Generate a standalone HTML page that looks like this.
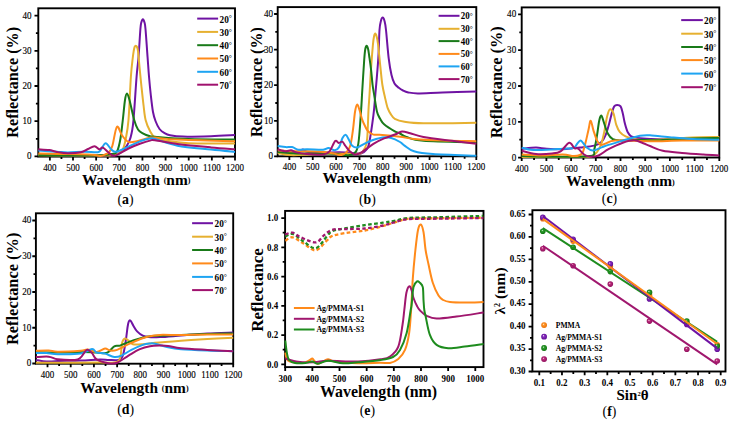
<!DOCTYPE html><html><head><meta charset="utf-8"><style>html,body{margin:0;padding:0;background:#fff;}svg{display:block;font-family:"Liberation Serif", serif;}</style></head><body>
<svg width="733" height="421" viewBox="0 0 733 421">
<rect width="733" height="421" fill="#fff"/>
<rect x="38.30" y="8.30" width="196.70" height="148.30" fill="none" stroke="#000" stroke-width="1.90"/>
<path d="M49.87 156.60V160.40M73.01 156.60V160.40M96.15 156.60V160.40M119.29 156.60V160.40M142.44 156.60V160.40M165.58 156.60V160.40M188.72 156.60V160.40M211.86 156.60V160.40M235.00 156.60V160.40M61.44 156.60V159.00M84.58 156.60V159.00M107.72 156.60V159.00M130.86 156.60V159.00M154.01 156.60V159.00M177.15 156.60V159.00M200.29 156.60V159.00M223.43 156.60V159.00M38.30 156.40H34.50M38.30 121.20H34.50M38.30 86.00H34.50M38.30 50.80H34.50M38.30 15.60H34.50M38.30 138.80H35.90M38.30 103.60H35.90M38.30 68.40H35.90M38.30 33.20H35.90" stroke="#000" stroke-width="1.80" fill="none"/>
<text transform="translate(49.87 170.60) scale(1 1.150)" font-size="9.00" font-weight="normal" text-anchor="middle" stroke="#000" stroke-width="0.12">400</text>
<text transform="translate(73.01 170.60) scale(1 1.150)" font-size="9.00" font-weight="normal" text-anchor="middle" stroke="#000" stroke-width="0.12">500</text>
<text transform="translate(96.15 170.60) scale(1 1.150)" font-size="9.00" font-weight="normal" text-anchor="middle" stroke="#000" stroke-width="0.12">600</text>
<text transform="translate(119.29 170.60) scale(1 1.150)" font-size="9.00" font-weight="normal" text-anchor="middle" stroke="#000" stroke-width="0.12">700</text>
<text transform="translate(142.44 170.60) scale(1 1.150)" font-size="9.00" font-weight="normal" text-anchor="middle" stroke="#000" stroke-width="0.12">800</text>
<text transform="translate(165.58 170.60) scale(1 1.150)" font-size="9.00" font-weight="normal" text-anchor="middle" stroke="#000" stroke-width="0.12">900</text>
<text transform="translate(188.72 170.60) scale(1 1.150)" font-size="9.00" font-weight="normal" text-anchor="middle" stroke="#000" stroke-width="0.12">1000</text>
<text transform="translate(211.86 170.60) scale(1 1.150)" font-size="9.00" font-weight="normal" text-anchor="middle" stroke="#000" stroke-width="0.12">1100</text>
<text transform="translate(235.00 170.60) scale(1 1.150)" font-size="9.00" font-weight="normal" text-anchor="middle" stroke="#000" stroke-width="0.12">1200</text>
<text transform="translate(31.50 155.60) scale(1 1.150)" font-size="9.10" font-weight="normal" text-anchor="end" dominant-baseline="central" stroke="#000" stroke-width="0.12">0</text>
<text transform="translate(31.50 120.40) scale(1 1.150)" font-size="9.10" font-weight="normal" text-anchor="end" dominant-baseline="central" stroke="#000" stroke-width="0.12">10</text>
<text transform="translate(31.50 85.20) scale(1 1.150)" font-size="9.10" font-weight="normal" text-anchor="end" dominant-baseline="central" stroke="#000" stroke-width="0.12">20</text>
<text transform="translate(31.50 50.00) scale(1 1.150)" font-size="9.10" font-weight="normal" text-anchor="end" dominant-baseline="central" stroke="#000" stroke-width="0.12">30</text>
<text transform="translate(31.50 14.80) scale(1 1.150)" font-size="9.10" font-weight="normal" text-anchor="end" dominant-baseline="central" stroke="#000" stroke-width="0.12">40</text>
<text transform="translate(18.00 82.30) rotate(-90)" font-size="16.15" font-weight="bold" text-anchor="middle">Reflectance (%)</text>
<text x="136.20" y="184.50" font-size="15.40" font-weight="bold" text-anchor="middle">Wavelength <tspan font-size="8" dy="-1.2">(</tspan><tspan dy="1.2">nm</tspan><tspan font-size="8" dy="-1.2">)</tspan></text>
<text x="125.50" y="204.20" font-size="13.80" text-anchor="middle">(<tspan font-weight="bold">a</tspan>)</text>
<path d="M38.30 155.00 C41.92 155.05 51.38 155.22 60.00 155.30 C68.62 155.38 81.67 155.47 90.00 155.50 C98.33 155.53 105.95 155.55 110.00 155.50 C114.05 155.45 112.48 155.73 114.30 155.20 C116.12 154.67 118.85 153.82 120.90 152.30 C122.95 150.78 125.02 148.48 126.60 146.10 C128.18 143.72 129.28 142.03 130.40 138.00 C131.52 133.97 132.27 132.15 133.30 121.90 C134.33 111.65 135.73 87.23 136.60 76.50 C137.47 65.77 137.87 65.42 138.50 57.50 C139.13 49.58 139.93 34.83 140.40 29.00 C140.87 23.17 140.88 24.12 141.30 22.50 C141.72 20.88 142.37 19.30 142.90 19.30 C143.43 19.30 144.07 20.88 144.50 22.50 C144.93 24.12 144.98 23.17 145.50 29.00 C146.02 34.83 147.02 49.58 147.60 57.50 C148.18 65.42 148.47 70.25 149.00 76.50 C149.53 82.75 150.13 89.08 150.80 95.00 C151.47 100.92 152.22 107.67 153.00 112.00 C153.78 116.33 154.42 118.17 155.50 121.00 C156.58 123.83 157.98 126.97 159.50 129.00 C161.02 131.03 162.85 132.15 164.60 133.20 C166.35 134.25 166.93 134.73 170.00 135.30 C173.07 135.87 176.17 136.45 183.00 136.60 C189.83 136.75 202.33 136.45 211.00 136.20 C219.67 135.95 231.00 135.28 235.00 135.10" fill="none" stroke="#6f13a3" stroke-width="2.00" stroke-linejoin="round" stroke-linecap="butt"/>
<path d="M38.30 155.20 C43.58 155.25 59.72 155.45 70.00 155.50 C80.28 155.55 93.00 155.53 100.00 155.50 C107.00 155.47 108.83 155.60 112.00 155.30 C115.17 155.00 117.20 154.67 119.00 153.70 C120.80 152.73 121.68 151.95 122.80 149.50 C123.92 147.05 124.75 143.92 125.70 139.00 C126.65 134.08 127.63 130.42 128.50 120.00 C129.37 109.58 130.18 86.92 130.90 76.50 C131.62 66.08 132.32 61.83 132.80 57.50 C133.28 53.17 133.50 52.25 133.80 50.50 C134.10 48.75 134.27 47.78 134.60 47.00 C134.93 46.22 135.40 45.80 135.80 45.80 C136.20 45.80 136.63 46.13 137.00 47.00 C137.37 47.87 137.58 47.67 138.00 51.00 C138.42 54.33 138.93 61.17 139.50 67.00 C140.07 72.83 140.73 79.67 141.40 86.00 C142.07 92.33 142.80 99.33 143.50 105.00 C144.20 110.67 144.52 115.67 145.60 120.00 C146.68 124.33 148.43 128.08 150.00 131.00 C151.57 133.92 152.50 135.92 155.00 137.50 C157.50 139.08 159.40 139.53 165.00 140.50 C170.60 141.47 176.93 142.80 188.60 143.30 C200.27 143.80 227.27 143.47 235.00 143.50" fill="none" stroke="#e6b030" stroke-width="2.00" stroke-linejoin="round" stroke-linecap="butt"/>
<path d="M38.30 155.30 C43.58 155.33 59.72 155.50 70.00 155.50 C80.28 155.50 92.78 155.60 100.00 155.30 C107.22 155.00 110.45 154.35 113.30 153.70 C116.15 153.05 115.92 153.85 117.10 151.40 C118.28 148.95 119.45 144.23 120.40 139.00 C121.35 133.77 122.03 126.50 122.80 120.00 C123.57 113.50 124.30 104.40 125.00 100.00 C125.70 95.60 126.25 93.60 127.00 93.60 C127.75 93.60 128.30 95.60 129.50 100.00 C130.70 104.40 132.78 115.08 134.20 120.00 C135.62 124.92 136.57 127.28 138.00 129.50 C139.43 131.72 140.80 132.18 142.80 133.30 C144.80 134.42 147.97 135.62 150.00 136.20 C152.03 136.78 148.57 136.33 155.00 136.80 C161.43 137.27 175.27 138.53 188.60 139.00 C201.93 139.47 227.27 139.50 235.00 139.60" fill="none" stroke="#197a19" stroke-width="2.00" stroke-linejoin="round" stroke-linecap="butt"/>
<path d="M38.30 153.50 C41.92 153.58 53.05 153.88 60.00 154.00 C66.95 154.12 74.17 154.03 80.00 154.20 C85.83 154.37 91.58 154.70 95.00 155.00 C98.42 155.30 98.72 156.13 100.50 156.00 C102.28 155.87 104.28 154.82 105.70 154.20 C107.12 153.58 107.88 153.72 109.00 152.30 C110.12 150.88 111.08 149.95 112.40 145.70 C113.72 141.45 115.32 128.55 116.90 126.80 C118.48 125.05 119.97 132.68 121.90 135.20 C123.83 137.72 125.82 140.95 128.50 141.90 C131.18 142.85 134.52 141.58 138.00 140.90 C141.48 140.22 146.57 138.35 149.40 137.80 C152.23 137.25 150.33 137.30 155.00 137.60 C159.67 137.90 164.07 138.98 177.40 139.60 C190.73 140.22 225.40 141.02 235.00 141.30" fill="none" stroke="#ff8a1a" stroke-width="2.00" stroke-linejoin="round" stroke-linecap="butt"/>
<path d="M38.30 150.60 C41.38 150.78 51.88 151.40 56.80 151.70 C61.72 152.00 63.25 152.40 67.80 152.40 C72.35 152.40 79.10 151.73 84.10 151.70 C89.10 151.67 94.98 152.57 97.80 152.20 C100.62 151.83 99.68 150.98 101.00 149.50 C102.32 148.02 103.97 143.30 105.70 143.30 C107.43 143.30 109.65 148.08 111.40 149.50 C113.15 150.92 113.35 152.28 116.20 151.80 C119.05 151.32 124.55 148.33 128.50 146.60 C132.45 144.87 136.32 142.75 139.90 141.40 C143.48 140.05 147.48 138.90 150.00 138.50 C152.52 138.10 150.43 137.80 155.00 139.00 C159.57 140.20 168.07 143.93 177.40 145.70 C186.73 147.47 201.40 148.57 211.00 149.60 C220.60 150.63 231.00 151.52 235.00 151.90" fill="none" stroke="#1ea4f2" stroke-width="2.00" stroke-linejoin="round" stroke-linecap="butt"/>
<path d="M38.30 149.30 C40.12 149.42 46.12 149.57 49.20 150.00 C52.28 150.43 53.70 151.35 56.80 151.90 C59.90 152.45 63.78 153.25 67.80 153.30 C71.82 153.35 77.53 152.92 80.90 152.20 C84.27 151.48 85.73 150.00 88.00 149.00 C90.27 148.00 92.60 146.15 94.50 146.20 C96.40 146.25 98.00 149.07 99.40 149.30 C100.80 149.53 101.22 146.93 102.90 147.60 C104.58 148.27 107.45 151.97 109.50 153.30 C111.55 154.63 112.03 156.40 115.20 155.60 C118.37 154.80 124.38 150.47 128.50 148.50 C132.62 146.53 136.32 145.12 139.90 143.80 C143.48 142.48 147.48 141.18 150.00 140.60 C152.52 140.02 150.43 139.73 155.00 140.30 C159.57 140.87 168.07 142.82 177.40 144.00 C186.73 145.18 201.40 146.52 211.00 147.40 C220.60 148.28 231.00 148.98 235.00 149.30" fill="none" stroke="#a0126e" stroke-width="2.00" stroke-linejoin="round" stroke-linecap="butt"/>
<path d="M197.20 18.60H218.10" stroke="#6f13a3" stroke-width="2"/>
<text transform="translate(219.50 18.90) scale(1 1.1)" font-size="9.30" font-weight="bold" dominant-baseline="central">20<tspan font-size="7.91" font-weight="normal" dy="-0.6">°</tspan></text>
<path d="M197.20 31.90H218.10" stroke="#e6b030" stroke-width="2"/>
<text transform="translate(219.50 32.20) scale(1 1.1)" font-size="9.30" font-weight="bold" dominant-baseline="central">30<tspan font-size="7.91" font-weight="normal" dy="-0.6">°</tspan></text>
<path d="M197.20 45.20H218.10" stroke="#197a19" stroke-width="2"/>
<text transform="translate(219.50 45.50) scale(1 1.1)" font-size="9.30" font-weight="bold" dominant-baseline="central">40<tspan font-size="7.91" font-weight="normal" dy="-0.6">°</tspan></text>
<path d="M197.20 58.50H218.10" stroke="#ff8a1a" stroke-width="2"/>
<text transform="translate(219.50 58.80) scale(1 1.1)" font-size="9.30" font-weight="bold" dominant-baseline="central">50<tspan font-size="7.91" font-weight="normal" dy="-0.6">°</tspan></text>
<path d="M197.20 71.80H218.10" stroke="#1ea4f2" stroke-width="2"/>
<text transform="translate(219.50 72.10) scale(1 1.1)" font-size="9.30" font-weight="bold" dominant-baseline="central">60<tspan font-size="7.91" font-weight="normal" dy="-0.6">°</tspan></text>
<path d="M197.20 84.70H218.10" stroke="#a0126e" stroke-width="2"/>
<text transform="translate(219.50 85.00) scale(1 1.1)" font-size="9.30" font-weight="bold" dominant-baseline="central">70<tspan font-size="7.91" font-weight="normal" dy="-0.6">°</tspan></text>
<rect x="277.70" y="7.10" width="198.60" height="149.20" fill="none" stroke="#000" stroke-width="1.90"/>
<path d="M289.38 156.30V159.90M312.75 156.30V159.90M336.11 156.30V159.90M359.48 156.30V159.90M382.84 156.30V159.90M406.21 156.30V159.90M429.57 156.30V159.90M452.94 156.30V159.90M476.30 156.30V159.90M301.06 156.30V158.70M324.43 156.30V158.70M347.79 156.30V158.70M371.16 156.30V158.70M394.52 156.30V158.70M417.89 156.30V158.70M441.25 156.30V158.70M464.62 156.30V158.70M277.70 156.40H274.10M277.70 120.80H274.10M277.70 85.20H274.10M277.70 49.60H274.10M277.70 14.00H274.10M277.70 138.60H275.30M277.70 103.00H275.30M277.70 67.40H275.30M277.70 31.80H275.30" stroke="#000" stroke-width="1.80" fill="none"/>
<text transform="translate(289.38 170.30) scale(1 1.150)" font-size="9.00" font-weight="normal" text-anchor="middle" stroke="#000" stroke-width="0.12">400</text>
<text transform="translate(312.75 170.30) scale(1 1.150)" font-size="9.00" font-weight="normal" text-anchor="middle" stroke="#000" stroke-width="0.12">500</text>
<text transform="translate(336.11 170.30) scale(1 1.150)" font-size="9.00" font-weight="normal" text-anchor="middle" stroke="#000" stroke-width="0.12">600</text>
<text transform="translate(359.48 170.30) scale(1 1.150)" font-size="9.00" font-weight="normal" text-anchor="middle" stroke="#000" stroke-width="0.12">700</text>
<text transform="translate(382.84 170.30) scale(1 1.150)" font-size="9.00" font-weight="normal" text-anchor="middle" stroke="#000" stroke-width="0.12">800</text>
<text transform="translate(406.21 170.30) scale(1 1.150)" font-size="9.00" font-weight="normal" text-anchor="middle" stroke="#000" stroke-width="0.12">900</text>
<text transform="translate(429.57 170.30) scale(1 1.150)" font-size="9.00" font-weight="normal" text-anchor="middle" stroke="#000" stroke-width="0.12">1000</text>
<text transform="translate(452.94 170.30) scale(1 1.150)" font-size="9.00" font-weight="normal" text-anchor="middle" stroke="#000" stroke-width="0.12">1100</text>
<text transform="translate(476.30 170.30) scale(1 1.150)" font-size="9.00" font-weight="normal" text-anchor="middle" stroke="#000" stroke-width="0.12">1200</text>
<text transform="translate(273.00 155.60) scale(1 1.150)" font-size="9.10" font-weight="normal" text-anchor="end" dominant-baseline="central" stroke="#000" stroke-width="0.12">0</text>
<text transform="translate(273.00 120.00) scale(1 1.150)" font-size="9.10" font-weight="normal" text-anchor="end" dominant-baseline="central" stroke="#000" stroke-width="0.12">10</text>
<text transform="translate(273.00 84.40) scale(1 1.150)" font-size="9.10" font-weight="normal" text-anchor="end" dominant-baseline="central" stroke="#000" stroke-width="0.12">20</text>
<text transform="translate(273.00 48.80) scale(1 1.150)" font-size="9.10" font-weight="normal" text-anchor="end" dominant-baseline="central" stroke="#000" stroke-width="0.12">30</text>
<text transform="translate(273.00 13.20) scale(1 1.150)" font-size="9.10" font-weight="normal" text-anchor="end" dominant-baseline="central" stroke="#000" stroke-width="0.12">40</text>
<text transform="translate(261.50 82.10) rotate(-90)" font-size="16.00" font-weight="bold" text-anchor="middle">Reflectance (%)</text>
<text x="376.60" y="182.70" font-size="15.40" font-weight="bold" text-anchor="middle">Wavelength <tspan font-size="8" dy="-1.2">(</tspan><tspan dy="1.2">nm</tspan><tspan font-size="8" dy="-1.2">)</tspan></text>
<text x="367.40" y="204.20" font-size="13.80" text-anchor="middle">(<tspan font-weight="bold">b</tspan>)</text>
<path d="M277.70 152.50 C279.75 152.45 286.28 152.37 290.00 152.20 C293.72 152.03 297.87 151.95 300.00 151.50 C302.13 151.05 301.63 149.45 302.80 149.50 C303.97 149.55 304.52 151.32 307.00 151.80 C309.48 152.28 311.37 152.30 317.70 152.40 C324.03 152.50 338.78 152.27 345.00 152.40 C351.22 152.53 352.33 153.00 355.00 153.20 C357.67 153.40 359.17 154.13 361.00 153.60 C362.83 153.07 364.67 151.63 366.00 150.00 C367.33 148.37 367.77 149.58 369.00 143.80 C370.23 138.02 372.35 123.43 373.40 115.30 C374.45 107.17 374.48 104.48 375.30 95.00 C376.12 85.52 377.60 69.23 378.30 58.40 C379.00 47.57 379.07 36.23 379.50 30.00 C379.93 23.77 380.37 23.07 380.90 21.00 C381.43 18.93 382.10 17.60 382.70 17.60 C383.30 17.60 383.95 18.93 384.50 21.00 C385.05 23.07 385.30 23.77 386.00 30.00 C386.70 36.23 387.78 50.90 388.70 58.40 C389.62 65.90 390.53 70.82 391.50 75.00 C392.47 79.18 393.28 81.37 394.50 83.50 C395.72 85.63 397.38 86.63 398.80 87.80 C400.22 88.97 401.42 89.73 403.00 90.50 C404.58 91.27 405.83 91.92 408.30 92.40 C410.77 92.88 412.10 93.40 417.80 93.40 C423.50 93.40 432.75 92.73 442.50 92.40 C452.25 92.07 470.67 91.57 476.30 91.40" fill="none" stroke="#6f13a3" stroke-width="2.00" stroke-linejoin="round" stroke-linecap="butt"/>
<path d="M277.70 153.00 C279.92 153.35 285.62 154.85 291.00 155.10 C296.38 155.35 303.77 154.77 310.00 154.50 C316.23 154.23 321.73 153.62 328.40 153.50 C335.07 153.38 344.73 153.80 350.00 153.80 C355.27 153.80 357.50 154.47 360.00 153.50 C362.50 152.53 363.80 150.52 365.00 148.00 C366.20 145.48 366.62 144.73 367.20 138.40 C367.78 132.07 368.12 117.23 368.50 110.00 C368.88 102.77 369.08 101.82 369.50 95.00 C369.92 88.18 370.43 77.43 371.00 69.10 C371.57 60.77 372.40 50.43 372.90 45.00 C373.40 39.57 373.60 38.40 374.00 36.50 C374.40 34.60 374.87 33.60 375.30 33.60 C375.73 33.60 376.15 34.77 376.60 36.50 C377.05 38.23 377.33 38.57 378.00 44.00 C378.67 49.43 379.87 62.27 380.60 69.10 C381.33 75.93 381.68 80.35 382.40 85.00 C383.12 89.65 384.02 93.13 384.90 97.00 C385.78 100.87 386.68 105.28 387.70 108.20 C388.72 111.12 389.82 112.73 391.00 114.50 C392.18 116.27 392.55 117.58 394.80 118.80 C397.05 120.02 399.72 121.05 404.50 121.80 C409.28 122.55 411.53 123.13 423.50 123.30 C435.47 123.47 467.50 122.88 476.30 122.80" fill="none" stroke="#e6b030" stroke-width="2.00" stroke-linejoin="round" stroke-linecap="butt"/>
<path d="M277.70 151.90 C280.82 152.17 287.95 153.23 296.40 153.50 C304.85 153.77 320.30 153.23 328.40 153.50 C336.50 153.77 340.77 155.05 345.00 155.10 C349.23 155.15 351.58 155.68 353.80 153.80 C356.02 151.92 357.10 150.82 358.30 143.80 C359.50 136.78 360.33 120.67 361.00 111.70 C361.67 102.73 361.77 98.62 362.30 90.00 C362.83 81.38 363.70 66.83 364.20 60.00 C364.70 53.17 364.88 51.37 365.30 49.00 C365.72 46.63 366.23 45.80 366.70 45.80 C367.17 45.80 367.68 47.30 368.10 49.00 C368.52 50.70 368.72 52.65 369.20 56.00 C369.68 59.35 370.43 64.27 371.00 69.10 C371.57 73.93 372.07 80.68 372.60 85.00 C373.13 89.32 373.47 90.55 374.20 95.00 C374.93 99.45 376.03 107.78 377.00 111.70 C377.97 115.62 378.82 116.42 380.00 118.50 C381.18 120.58 381.63 122.07 384.10 124.20 C386.57 126.33 392.15 129.75 394.80 131.30 C397.45 132.85 398.07 132.55 400.00 133.50 C401.93 134.45 402.48 135.78 406.40 137.00 C410.32 138.22 411.85 139.90 423.50 140.80 C435.15 141.70 467.50 142.13 476.30 142.40" fill="none" stroke="#197a19" stroke-width="2.00" stroke-linejoin="round" stroke-linecap="butt"/>
<path d="M277.70 150.30 C279.92 150.47 286.10 151.13 291.00 151.30 C295.90 151.47 301.75 151.20 307.10 151.30 C312.45 151.40 318.65 151.53 323.10 151.90 C327.55 152.27 331.13 152.97 333.80 153.50 C336.47 154.03 337.40 155.02 339.10 155.10 C340.80 155.18 342.73 154.52 344.00 154.00 C345.27 153.48 345.65 153.40 346.70 152.00 C347.75 150.60 349.25 149.35 350.30 145.60 C351.35 141.85 352.22 135.10 353.00 129.50 C353.78 123.90 354.32 116.15 355.00 112.00 C355.68 107.85 356.35 104.93 357.10 104.60 C357.85 104.27 358.70 107.63 359.50 110.00 C360.30 112.37 360.98 116.13 361.90 118.80 C362.82 121.47 363.97 123.92 365.00 126.00 C366.03 128.08 366.70 129.87 368.10 131.30 C369.50 132.73 371.02 134.00 373.40 134.60 C375.78 135.20 377.97 134.55 382.40 134.90 C386.83 135.25 394.73 136.03 400.00 136.70 C405.27 137.37 406.92 138.27 414.00 138.90 C421.08 139.53 432.12 140.12 442.50 140.50 C452.88 140.88 470.67 141.08 476.30 141.20" fill="none" stroke="#ff8a1a" stroke-width="2.00" stroke-linejoin="round" stroke-linecap="butt"/>
<path d="M277.70 146.00 C279.03 146.18 283.30 146.92 285.70 147.10 C288.10 147.28 289.97 146.67 292.10 147.10 C294.23 147.53 296.00 149.35 298.50 149.70 C301.00 150.05 303.00 149.20 307.10 149.20 C311.20 149.20 319.55 149.88 323.10 149.70 C326.65 149.52 326.45 148.00 328.40 148.10 C330.35 148.20 333.02 150.47 334.80 150.30 C336.58 150.13 337.82 149.15 339.10 147.10 C340.38 145.05 341.38 140.03 342.50 138.00 C343.62 135.97 344.72 134.57 345.80 134.90 C346.88 135.23 347.95 138.22 349.00 140.00 C350.05 141.78 350.70 144.37 352.10 145.60 C353.50 146.83 354.73 148.00 357.40 147.40 C360.07 146.80 363.93 143.63 368.10 142.00 C372.27 140.37 378.53 138.27 382.40 137.60 C386.27 136.93 388.37 137.27 391.30 138.00 C394.23 138.73 397.80 140.73 400.00 142.00 C402.20 143.27 402.17 144.05 404.50 145.60 C406.83 147.15 409.25 149.88 414.00 151.30 C418.75 152.72 422.62 153.37 433.00 154.10 C443.38 154.83 469.08 155.43 476.30 155.70" fill="none" stroke="#1ea4f2" stroke-width="2.00" stroke-linejoin="round" stroke-linecap="butt"/>
<path d="M277.70 149.20 C279.03 149.55 283.48 151.12 285.70 151.30 C287.92 151.48 289.22 150.12 291.00 150.30 C292.78 150.48 293.72 151.78 296.40 152.40 C299.08 153.02 302.65 153.65 307.10 154.00 C311.55 154.35 319.37 154.95 323.10 154.50 C326.83 154.05 327.48 153.55 329.50 151.30 C331.52 149.05 333.67 142.40 335.20 141.00 C336.73 139.60 337.52 142.78 338.70 142.90 C339.88 143.02 341.17 141.18 342.30 141.70 C343.43 142.22 344.32 144.47 345.50 146.00 C346.68 147.53 347.87 149.48 349.40 150.90 C350.93 152.32 352.77 154.20 354.70 154.50 C356.63 154.80 357.88 154.48 361.00 152.70 C364.12 150.92 369.55 146.18 373.40 143.80 C377.25 141.42 380.50 139.95 384.10 138.40 C387.70 136.85 392.02 135.65 395.00 134.50 C397.98 133.35 399.47 131.72 402.00 131.50 C404.53 131.28 406.62 132.28 410.20 133.20 C413.78 134.12 416.53 135.73 423.50 137.00 C430.47 138.27 443.20 139.68 452.00 140.80 C460.80 141.92 472.25 143.22 476.30 143.70" fill="none" stroke="#a0126e" stroke-width="2.00" stroke-linejoin="round" stroke-linecap="butt"/>
<path d="M438.60 15.80H459.50" stroke="#6f13a3" stroke-width="2"/>
<text transform="translate(460.80 16.10) scale(1 1.1)" font-size="9.00" font-weight="bold" dominant-baseline="central">20<tspan font-size="7.65" font-weight="normal" dy="-0.6">°</tspan></text>
<path d="M438.60 28.80H459.50" stroke="#e6b030" stroke-width="2"/>
<text transform="translate(460.80 29.10) scale(1 1.1)" font-size="9.00" font-weight="bold" dominant-baseline="central">30<tspan font-size="7.65" font-weight="normal" dy="-0.6">°</tspan></text>
<path d="M438.60 41.10H459.50" stroke="#197a19" stroke-width="2"/>
<text transform="translate(460.80 41.40) scale(1 1.1)" font-size="9.00" font-weight="bold" dominant-baseline="central">40<tspan font-size="7.65" font-weight="normal" dy="-0.6">°</tspan></text>
<path d="M438.60 53.90H459.50" stroke="#ff8a1a" stroke-width="2"/>
<text transform="translate(460.80 54.20) scale(1 1.1)" font-size="9.00" font-weight="bold" dominant-baseline="central">50<tspan font-size="7.65" font-weight="normal" dy="-0.6">°</tspan></text>
<path d="M438.60 66.40H459.50" stroke="#1ea4f2" stroke-width="2"/>
<text transform="translate(460.80 66.70) scale(1 1.1)" font-size="9.00" font-weight="bold" dominant-baseline="central">60<tspan font-size="7.65" font-weight="normal" dy="-0.6">°</tspan></text>
<path d="M438.60 79.10H459.50" stroke="#a0126e" stroke-width="2"/>
<text transform="translate(460.80 79.40) scale(1 1.1)" font-size="9.00" font-weight="bold" dominant-baseline="central">70<tspan font-size="7.65" font-weight="normal" dy="-0.6">°</tspan></text>
<rect x="521.70" y="7.40" width="197.60" height="150.10" fill="none" stroke="#000" stroke-width="1.90"/>
<path d="M521.70 157.50V161.10M546.40 157.50V161.10M571.10 157.50V161.10M595.80 157.50V161.10M620.50 157.50V161.10M645.20 157.50V161.10M669.90 157.50V161.10M694.60 157.50V161.10M719.30 157.50V161.10M534.05 157.50V159.90M558.75 157.50V159.90M583.45 157.50V159.90M608.15 157.50V159.90M632.85 157.50V159.90M657.55 157.50V159.90M682.25 157.50V159.90M706.95 157.50V159.90M521.70 157.60H518.10M521.70 121.80H518.10M521.70 86.00H518.10M521.70 50.20H518.10M521.70 14.40H518.10M521.70 139.70H519.30M521.70 103.90H519.30M521.70 68.10H519.30M521.70 32.30H519.30" stroke="#000" stroke-width="1.80" fill="none"/>
<text transform="translate(521.70 171.50) scale(1 1.150)" font-size="9.00" font-weight="normal" text-anchor="middle" stroke="#000" stroke-width="0.12">400</text>
<text transform="translate(546.40 171.50) scale(1 1.150)" font-size="9.00" font-weight="normal" text-anchor="middle" stroke="#000" stroke-width="0.12">500</text>
<text transform="translate(571.10 171.50) scale(1 1.150)" font-size="9.00" font-weight="normal" text-anchor="middle" stroke="#000" stroke-width="0.12">600</text>
<text transform="translate(595.80 171.50) scale(1 1.150)" font-size="9.00" font-weight="normal" text-anchor="middle" stroke="#000" stroke-width="0.12">700</text>
<text transform="translate(620.50 171.50) scale(1 1.150)" font-size="9.00" font-weight="normal" text-anchor="middle" stroke="#000" stroke-width="0.12">800</text>
<text transform="translate(645.20 171.50) scale(1 1.150)" font-size="9.00" font-weight="normal" text-anchor="middle" stroke="#000" stroke-width="0.12">900</text>
<text transform="translate(669.90 171.50) scale(1 1.150)" font-size="9.00" font-weight="normal" text-anchor="middle" stroke="#000" stroke-width="0.12">1000</text>
<text transform="translate(694.60 171.50) scale(1 1.150)" font-size="9.00" font-weight="normal" text-anchor="middle" stroke="#000" stroke-width="0.12">1100</text>
<text transform="translate(719.30 171.50) scale(1 1.150)" font-size="9.00" font-weight="normal" text-anchor="middle" stroke="#000" stroke-width="0.12">1200</text>
<text transform="translate(516.20 156.80) scale(1 1.150)" font-size="9.10" font-weight="normal" text-anchor="end" dominant-baseline="central" stroke="#000" stroke-width="0.12">0</text>
<text transform="translate(516.20 121.00) scale(1 1.150)" font-size="9.10" font-weight="normal" text-anchor="end" dominant-baseline="central" stroke="#000" stroke-width="0.12">10</text>
<text transform="translate(516.20 85.20) scale(1 1.150)" font-size="9.10" font-weight="normal" text-anchor="end" dominant-baseline="central" stroke="#000" stroke-width="0.12">20</text>
<text transform="translate(516.20 49.40) scale(1 1.150)" font-size="9.10" font-weight="normal" text-anchor="end" dominant-baseline="central" stroke="#000" stroke-width="0.12">30</text>
<text transform="translate(516.20 13.60) scale(1 1.150)" font-size="9.10" font-weight="normal" text-anchor="end" dominant-baseline="central" stroke="#000" stroke-width="0.12">40</text>
<text transform="translate(501.50 82.25) rotate(-90)" font-size="16.35" font-weight="bold" text-anchor="middle">Reflectance (%)</text>
<text x="620.50" y="185.70" font-size="15.40" font-weight="bold" text-anchor="middle">Wavelength <tspan font-size="8" dy="-1.2">(</tspan><tspan dy="1.2">nm</tspan><tspan font-size="8" dy="-1.2">)</tspan></text>
<text x="609.50" y="202.70" font-size="13.80" text-anchor="middle">(<tspan font-weight="bold">c</tspan>)</text>
<path d="M521.70 148.70 C524.08 148.52 531.83 147.60 536.00 147.60 C540.17 147.60 542.25 148.43 546.70 148.70 C551.15 148.97 558.25 149.30 562.70 149.20 C567.15 149.10 570.52 148.38 573.40 148.10 C576.28 147.82 576.52 147.92 580.00 147.50 C583.48 147.08 590.73 146.52 594.30 145.60 C597.87 144.68 599.50 143.78 601.40 142.00 C603.30 140.22 604.40 137.98 605.70 134.90 C607.00 131.82 608.13 127.30 609.20 123.50 C610.27 119.70 611.27 114.95 612.10 112.10 C612.93 109.25 613.37 107.58 614.20 106.40 C615.03 105.22 616.03 105.00 617.10 105.00 C618.17 105.00 619.65 104.98 620.60 106.40 C621.55 107.82 622.08 110.65 622.80 113.50 C623.52 116.35 624.08 120.40 624.90 123.50 C625.72 126.60 626.63 129.97 627.70 132.10 C628.77 134.23 629.25 135.28 631.30 136.30 C633.35 137.32 635.22 137.70 640.00 138.20 C644.78 138.70 651.67 139.28 660.00 139.30 C668.33 139.32 680.12 138.52 690.00 138.30 C699.88 138.08 714.42 138.05 719.30 138.00" fill="none" stroke="#6f13a3" stroke-width="2.00" stroke-linejoin="round" stroke-linecap="butt"/>
<path d="M521.70 157.00 C528.08 157.00 549.45 157.03 560.00 157.00 C570.55 156.97 579.73 156.88 585.00 156.80 C590.27 156.72 589.58 157.30 591.60 156.50 C593.62 155.70 595.47 154.17 597.10 152.00 C598.73 149.83 600.22 146.82 601.40 143.50 C602.58 140.18 603.25 136.62 604.20 132.10 C605.15 127.58 606.15 120.20 607.10 116.40 C608.05 112.60 608.83 109.78 609.90 109.30 C610.97 108.82 612.43 110.90 613.50 113.50 C614.57 116.10 615.23 121.80 616.30 124.90 C617.37 128.00 618.35 130.20 619.90 132.10 C621.45 134.00 623.10 135.12 625.60 136.30 C628.10 137.48 630.83 138.57 634.90 139.20 C638.97 139.83 643.92 140.13 650.00 140.10 C656.08 140.07 664.28 139.45 671.40 139.00 C678.52 138.55 684.72 137.75 692.70 137.40 C700.68 137.05 714.87 136.98 719.30 136.90" fill="none" stroke="#e6b030" stroke-width="2.00" stroke-linejoin="round" stroke-linecap="butt"/>
<path d="M521.70 156.10 C526.77 156.20 540.72 156.70 552.10 156.70 C563.48 156.70 582.97 157.35 590.00 156.10 C597.03 154.85 593.12 152.73 594.30 149.20 C595.48 145.67 596.28 139.65 597.10 134.90 C597.92 130.15 598.48 123.90 599.20 120.70 C599.92 117.50 600.57 115.23 601.40 115.70 C602.23 116.17 603.13 120.53 604.20 123.50 C605.27 126.47 606.37 130.88 607.80 133.50 C609.23 136.12 610.78 138.02 612.80 139.20 C614.82 140.38 616.22 140.48 619.90 140.60 C623.58 140.72 628.22 139.97 634.90 139.90 C641.58 139.83 650.37 140.43 660.00 140.20 C669.63 139.97 682.82 138.87 692.70 138.50 C702.58 138.13 714.87 138.08 719.30 138.00" fill="none" stroke="#197a19" stroke-width="2.00" stroke-linejoin="round" stroke-linecap="butt"/>
<path d="M521.70 154.50 C524.98 154.68 534.57 155.60 541.40 155.60 C548.23 155.60 557.37 154.42 562.70 154.50 C568.03 154.58 570.52 156.02 573.40 156.10 C576.28 156.18 578.42 155.68 580.00 155.00 C581.58 154.32 581.95 154.17 582.90 152.00 C583.85 149.83 584.75 145.80 585.70 142.00 C586.65 138.20 587.77 132.75 588.60 129.20 C589.43 125.65 589.88 120.47 590.70 120.70 C591.52 120.93 592.43 127.28 593.50 130.60 C594.57 133.92 595.90 138.22 597.10 140.60 C598.30 142.98 599.27 144.42 600.70 144.90 C602.13 145.38 603.22 144.22 605.70 143.50 C608.18 142.78 608.22 140.98 615.60 140.60 C622.98 140.22 638.93 141.20 650.00 141.20 C661.07 141.20 670.45 140.70 682.00 140.60 C693.55 140.50 713.08 140.60 719.30 140.60" fill="none" stroke="#ff8a1a" stroke-width="2.00" stroke-linejoin="round" stroke-linecap="butt"/>
<path d="M521.70 147.60 C523.20 147.95 526.53 149.35 530.70 149.70 C534.87 150.05 541.37 149.87 546.70 149.70 C552.03 149.53 558.25 148.97 562.70 148.70 C567.15 148.43 571.02 148.88 573.40 148.10 C575.78 147.32 575.83 145.25 577.00 144.00 C578.17 142.75 579.32 140.68 580.40 140.60 C581.48 140.52 582.52 142.42 583.50 143.50 C584.48 144.58 584.75 145.92 586.30 147.10 C587.85 148.28 590.25 150.55 592.80 150.60 C595.35 150.65 598.98 148.35 601.60 147.40 C604.22 146.45 604.97 146.03 608.50 144.90 C612.03 143.77 617.55 142.12 622.80 140.60 C628.05 139.08 635.47 136.68 640.00 135.80 C644.53 134.92 644.77 135.03 650.00 135.30 C655.23 135.57 664.28 136.78 671.40 137.40 C678.52 138.02 684.72 138.60 692.70 139.00 C700.68 139.40 714.87 139.67 719.30 139.80" fill="none" stroke="#1ea4f2" stroke-width="2.00" stroke-linejoin="round" stroke-linecap="butt"/>
<path d="M521.70 150.80 C524.08 151.33 530.93 153.55 536.00 154.00 C541.07 154.45 548.00 153.95 552.10 153.50 C556.20 153.05 557.75 153.08 560.60 151.30 C563.45 149.52 566.88 143.33 569.20 142.80 C571.52 142.27 573.00 147.12 574.50 148.10 C576.00 149.08 576.60 147.63 578.20 148.70 C579.80 149.77 582.13 153.17 584.10 154.50 C586.07 155.83 587.60 156.53 590.00 156.70 C592.40 156.87 595.42 156.75 598.50 155.50 C601.58 154.25 604.45 151.33 608.50 149.20 C612.55 147.07 618.52 144.18 622.80 142.70 C627.08 141.22 630.80 140.22 634.20 140.30 C637.60 140.38 640.57 142.25 643.20 143.20 C645.83 144.15 646.73 144.73 650.00 146.00 C653.27 147.27 657.47 149.65 662.80 150.80 C668.13 151.95 675.23 152.28 682.00 152.90 C688.77 153.52 697.18 154.08 703.40 154.50 C709.62 154.92 716.65 155.25 719.30 155.40" fill="none" stroke="#a0126e" stroke-width="2.00" stroke-linejoin="round" stroke-linecap="butt"/>
<path d="M681.20 20.10H702.80" stroke="#6f13a3" stroke-width="2"/>
<text transform="translate(704.00 20.40) scale(1 1.1)" font-size="9.30" font-weight="bold" dominant-baseline="central">20<tspan font-size="7.91" font-weight="normal" dy="-0.6">°</tspan></text>
<path d="M681.20 33.70H702.80" stroke="#e6b030" stroke-width="2"/>
<text transform="translate(704.00 34.00) scale(1 1.1)" font-size="9.30" font-weight="bold" dominant-baseline="central">30<tspan font-size="7.91" font-weight="normal" dy="-0.6">°</tspan></text>
<path d="M681.20 47.00H702.80" stroke="#197a19" stroke-width="2"/>
<text transform="translate(704.00 47.30) scale(1 1.1)" font-size="9.30" font-weight="bold" dominant-baseline="central">40<tspan font-size="7.91" font-weight="normal" dy="-0.6">°</tspan></text>
<path d="M681.20 60.10H702.80" stroke="#ff8a1a" stroke-width="2"/>
<text transform="translate(704.00 60.40) scale(1 1.1)" font-size="9.30" font-weight="bold" dominant-baseline="central">50<tspan font-size="7.91" font-weight="normal" dy="-0.6">°</tspan></text>
<path d="M681.20 73.60H702.80" stroke="#1ea4f2" stroke-width="2"/>
<text transform="translate(704.00 73.90) scale(1 1.1)" font-size="9.30" font-weight="bold" dominant-baseline="central">60<tspan font-size="7.91" font-weight="normal" dy="-0.6">°</tspan></text>
<path d="M681.20 87.20H702.80" stroke="#a0126e" stroke-width="2"/>
<text transform="translate(704.00 87.50) scale(1 1.1)" font-size="9.30" font-weight="bold" dominant-baseline="central">70<tspan font-size="7.91" font-weight="normal" dy="-0.6">°</tspan></text>
<rect x="35.90" y="213.30" width="197.30" height="150.40" fill="none" stroke="#000" stroke-width="1.90"/>
<path d="M47.51 363.70V367.30M70.72 363.70V367.30M93.93 363.70V367.30M117.14 363.70V367.30M140.35 363.70V367.30M163.56 363.70V367.30M186.78 363.70V367.30M209.99 363.70V367.30M233.20 363.70V367.30M59.11 363.70V366.10M82.32 363.70V366.10M105.54 363.70V366.10M128.75 363.70V366.10M151.96 363.70V366.10M175.17 363.70V366.10M198.38 363.70V366.10M221.59 363.70V366.10M35.90 363.50H32.30M35.90 327.75H32.30M35.90 292.00H32.30M35.90 256.25H32.30M35.90 220.50H32.30M35.90 345.62H33.50M35.90 309.88H33.50M35.90 274.12H33.50M35.90 238.38H33.50" stroke="#000" stroke-width="1.80" fill="none"/>
<text transform="translate(47.51 377.70) scale(1 1.150)" font-size="9.00" font-weight="normal" text-anchor="middle" stroke="#000" stroke-width="0.12">400</text>
<text transform="translate(70.72 377.70) scale(1 1.150)" font-size="9.00" font-weight="normal" text-anchor="middle" stroke="#000" stroke-width="0.12">500</text>
<text transform="translate(93.93 377.70) scale(1 1.150)" font-size="9.00" font-weight="normal" text-anchor="middle" stroke="#000" stroke-width="0.12">600</text>
<text transform="translate(117.14 377.70) scale(1 1.150)" font-size="9.00" font-weight="normal" text-anchor="middle" stroke="#000" stroke-width="0.12">700</text>
<text transform="translate(140.35 377.70) scale(1 1.150)" font-size="9.00" font-weight="normal" text-anchor="middle" stroke="#000" stroke-width="0.12">800</text>
<text transform="translate(163.56 377.70) scale(1 1.150)" font-size="9.00" font-weight="normal" text-anchor="middle" stroke="#000" stroke-width="0.12">900</text>
<text transform="translate(186.78 377.70) scale(1 1.150)" font-size="9.00" font-weight="normal" text-anchor="middle" stroke="#000" stroke-width="0.12">1000</text>
<text transform="translate(209.99 377.70) scale(1 1.150)" font-size="9.00" font-weight="normal" text-anchor="middle" stroke="#000" stroke-width="0.12">1100</text>
<text transform="translate(233.20 377.70) scale(1 1.150)" font-size="9.00" font-weight="normal" text-anchor="middle" stroke="#000" stroke-width="0.12">1200</text>
<text transform="translate(31.40 362.70) scale(1 1.150)" font-size="9.10" font-weight="normal" text-anchor="end" dominant-baseline="central" stroke="#000" stroke-width="0.12">0</text>
<text transform="translate(31.40 326.95) scale(1 1.150)" font-size="9.10" font-weight="normal" text-anchor="end" dominant-baseline="central" stroke="#000" stroke-width="0.12">10</text>
<text transform="translate(31.40 291.20) scale(1 1.150)" font-size="9.10" font-weight="normal" text-anchor="end" dominant-baseline="central" stroke="#000" stroke-width="0.12">20</text>
<text transform="translate(31.40 255.45) scale(1 1.150)" font-size="9.10" font-weight="normal" text-anchor="end" dominant-baseline="central" stroke="#000" stroke-width="0.12">30</text>
<text transform="translate(31.40 219.70) scale(1 1.150)" font-size="9.10" font-weight="normal" text-anchor="end" dominant-baseline="central" stroke="#000" stroke-width="0.12">40</text>
<text transform="translate(18.00 288.80) rotate(-90)" font-size="16.40" font-weight="bold" text-anchor="middle">Reflectance (%)</text>
<text x="134.40" y="392.50" font-size="15.40" font-weight="bold" text-anchor="middle">Wavelength <tspan font-size="8" dy="-1.2">(</tspan><tspan dy="1.2">nm</tspan><tspan font-size="8" dy="-1.2">)</tspan></text>
<text x="125.70" y="413.60" font-size="13.80" text-anchor="middle">(<tspan font-weight="bold">d</tspan>)</text>
<path d="M35.90 359.90 C37.65 360.18 42.75 361.42 46.40 361.60 C50.05 361.78 52.10 361.18 57.80 361.00 C63.50 360.82 73.57 360.77 80.60 360.50 C87.63 360.23 95.33 359.50 100.00 359.40 C104.67 359.30 105.52 359.82 108.60 359.90 C111.68 359.98 116.13 360.62 118.50 359.90 C120.87 359.18 121.60 358.68 122.80 355.60 C124.00 352.52 124.92 346.08 125.70 341.40 C126.48 336.72 127.02 330.73 127.50 327.50 C127.98 324.27 128.20 323.20 128.60 322.00 C129.00 320.80 129.45 320.33 129.90 320.30 C130.35 320.27 130.70 320.87 131.30 321.80 C131.90 322.73 132.53 324.30 133.50 325.90 C134.47 327.50 135.55 329.77 137.10 331.40 C138.65 333.03 140.90 334.75 142.80 335.70 C144.70 336.65 145.63 336.87 148.50 337.10 C151.37 337.33 154.57 337.37 160.00 337.10 C165.43 336.83 173.22 336.10 181.10 335.50 C188.98 334.90 198.62 334.00 207.30 333.50 C215.98 333.00 228.88 332.67 233.20 332.50" fill="none" stroke="#6f13a3" stroke-width="2.00" stroke-linejoin="round" stroke-linecap="butt"/>
<path d="M35.90 362.80 C41.45 362.80 58.52 362.85 69.20 362.80 C79.88 362.75 92.48 362.55 100.00 362.50 C107.52 362.45 110.97 363.17 114.30 362.50 C117.63 361.83 118.70 361.78 120.00 358.50 C121.30 355.22 121.28 346.13 122.10 342.80 C122.92 339.47 123.83 338.87 124.90 338.50 C125.97 338.13 127.18 339.65 128.50 340.60 C129.82 341.55 130.42 343.60 132.80 344.20 C135.18 344.80 139.10 344.45 142.80 344.20 C146.50 343.95 148.62 343.28 155.00 342.70 C161.38 342.12 172.38 341.32 181.10 340.70 C189.82 340.08 198.62 339.50 207.30 339.00 C215.98 338.50 228.88 337.92 233.20 337.70" fill="none" stroke="#e6b030" stroke-width="2.00" stroke-linejoin="round" stroke-linecap="butt"/>
<path d="M35.90 352.20 C39.55 352.25 50.35 352.55 57.80 352.50 C65.25 352.45 74.13 351.90 80.60 351.90 C87.07 351.90 92.18 352.35 96.60 352.50 C101.02 352.65 104.15 353.83 107.10 352.80 C110.05 351.77 112.15 347.50 114.30 346.30 C116.45 345.10 117.63 346.30 120.00 345.60 C122.37 344.90 125.18 343.28 128.50 342.10 C131.82 340.92 136.57 339.45 139.90 338.50 C143.23 337.55 145.15 336.87 148.50 336.40 C151.85 335.93 154.57 335.93 160.00 335.70 C165.43 335.47 173.22 335.28 181.10 335.00 C188.98 334.72 198.62 334.25 207.30 334.00 C215.98 333.75 228.88 333.58 233.20 333.50" fill="none" stroke="#197a19" stroke-width="2.00" stroke-linejoin="round" stroke-linecap="butt"/>
<path d="M35.90 350.80 C38.03 350.77 45.05 350.45 48.70 350.60 C52.35 350.75 52.48 351.67 57.80 351.70 C63.12 351.73 75.65 351.15 80.60 350.80 C85.55 350.45 84.83 349.42 87.50 349.60 C90.17 349.78 93.68 352.08 96.60 351.90 C99.52 351.72 102.77 348.72 105.00 348.50 C107.23 348.28 107.98 350.37 110.00 350.60 C112.02 350.83 114.02 350.97 117.10 349.90 C120.18 348.83 124.70 345.98 128.50 344.20 C132.30 342.42 136.57 340.50 139.90 339.20 C143.23 337.90 145.15 337.12 148.50 336.40 C151.85 335.68 154.57 335.12 160.00 334.90 C165.43 334.68 173.22 335.15 181.10 335.10 C188.98 335.05 198.62 334.68 207.30 334.60 C215.98 334.52 228.88 334.60 233.20 334.60" fill="none" stroke="#ff8a1a" stroke-width="2.00" stroke-linejoin="round" stroke-linecap="butt"/>
<path d="M35.90 353.10 C37.65 353.10 42.75 352.92 46.40 353.10 C50.05 353.28 52.10 354.12 57.80 354.20 C63.50 354.28 74.90 354.45 80.60 353.60 C86.30 352.75 89.33 349.28 92.00 349.10 C94.67 348.92 94.43 351.75 96.60 352.50 C98.77 353.25 102.05 352.85 105.00 353.60 C107.95 354.35 111.57 356.67 114.30 357.00 C117.03 357.33 118.55 356.78 121.40 355.60 C124.25 354.42 127.83 351.68 131.40 349.90 C134.97 348.12 139.72 345.97 142.80 344.90 C145.88 343.83 147.87 343.70 149.90 343.50 C151.93 343.30 151.97 343.07 155.00 343.70 C158.03 344.33 163.75 346.38 168.10 347.30 C172.45 348.22 174.57 348.67 181.10 349.20 C187.63 349.73 198.62 350.17 207.30 350.50 C215.98 350.83 228.88 351.08 233.20 351.20" fill="none" stroke="#1ea4f2" stroke-width="2.00" stroke-linejoin="round" stroke-linecap="butt"/>
<path d="M35.90 357.10 C38.03 357.03 45.05 356.33 48.70 356.70 C52.35 357.07 53.43 358.77 57.80 359.30 C62.17 359.83 71.10 360.18 74.90 359.90 C78.70 359.62 78.60 359.27 80.60 357.60 C82.60 355.93 85.00 350.65 86.90 349.90 C88.80 349.15 90.38 351.53 92.00 353.10 C93.62 354.67 93.83 357.62 96.60 359.30 C99.37 360.98 105.18 362.63 108.60 363.20 C112.02 363.77 113.78 363.97 117.10 362.70 C120.42 361.43 124.70 357.85 128.50 355.60 C132.30 353.35 136.33 350.75 139.90 349.20 C143.47 347.65 146.55 346.90 149.90 346.30 C153.25 345.70 156.97 345.67 160.00 345.60 C163.03 345.53 164.58 345.47 168.10 345.90 C171.62 346.33 174.57 347.53 181.10 348.20 C187.63 348.87 198.62 349.40 207.30 349.90 C215.98 350.40 228.88 350.98 233.20 351.20" fill="none" stroke="#a0126e" stroke-width="2.00" stroke-linejoin="round" stroke-linecap="butt"/>
<path d="M192.10 223.20H213.00" stroke="#6f13a3" stroke-width="2"/>
<text transform="translate(214.50 223.50) scale(1 1.1)" font-size="9.30" font-weight="bold" dominant-baseline="central">20<tspan font-size="7.91" font-weight="normal" dy="-0.6">°</tspan></text>
<path d="M192.10 236.70H213.00" stroke="#e6b030" stroke-width="2"/>
<text transform="translate(214.50 237.00) scale(1 1.1)" font-size="9.30" font-weight="bold" dominant-baseline="central">30<tspan font-size="7.91" font-weight="normal" dy="-0.6">°</tspan></text>
<path d="M192.10 250.00H213.00" stroke="#197a19" stroke-width="2"/>
<text transform="translate(214.50 250.30) scale(1 1.1)" font-size="9.30" font-weight="bold" dominant-baseline="central">40<tspan font-size="7.91" font-weight="normal" dy="-0.6">°</tspan></text>
<path d="M192.10 263.40H213.00" stroke="#ff8a1a" stroke-width="2"/>
<text transform="translate(214.50 263.70) scale(1 1.1)" font-size="9.30" font-weight="bold" dominant-baseline="central">50<tspan font-size="7.91" font-weight="normal" dy="-0.6">°</tspan></text>
<path d="M192.10 276.90H213.00" stroke="#1ea4f2" stroke-width="2"/>
<text transform="translate(214.50 277.20) scale(1 1.1)" font-size="9.30" font-weight="bold" dominant-baseline="central">60<tspan font-size="7.91" font-weight="normal" dy="-0.6">°</tspan></text>
<path d="M192.10 290.10H213.00" stroke="#a0126e" stroke-width="2"/>
<text transform="translate(214.50 290.40) scale(1 1.1)" font-size="9.30" font-weight="bold" dominant-baseline="central">70<tspan font-size="7.91" font-weight="normal" dy="-0.6">°</tspan></text>
<rect x="285.10" y="210.90" width="198.40" height="156.20" fill="none" stroke="#000" stroke-width="1.90"/>
<path d="M285.20 367.10V370.90M312.36 367.10V370.90M339.51 367.10V370.90M366.67 367.10V370.90M393.83 367.10V370.90M420.99 367.10V370.90M448.14 367.10V370.90M475.30 367.10V370.90M285.10 364.30H281.30M285.10 335.06H281.30M285.10 305.82H281.30M285.10 276.58H281.30M285.10 247.34H281.30M285.10 218.10H281.30M285.10 349.68H282.70M285.10 320.44H282.70M285.10 291.20H282.70M285.10 261.96H282.70M285.10 232.72H282.70" stroke="#000" stroke-width="1.80" fill="none"/>
<text transform="translate(285.20 381.60) scale(1 1.050)" font-size="9.00" font-weight="bold" text-anchor="middle">300</text>
<text transform="translate(312.36 381.60) scale(1 1.050)" font-size="9.00" font-weight="bold" text-anchor="middle">400</text>
<text transform="translate(339.51 381.60) scale(1 1.050)" font-size="9.00" font-weight="bold" text-anchor="middle">500</text>
<text transform="translate(366.67 381.60) scale(1 1.050)" font-size="9.00" font-weight="bold" text-anchor="middle">600</text>
<text transform="translate(393.83 381.60) scale(1 1.050)" font-size="9.00" font-weight="bold" text-anchor="middle">700</text>
<text transform="translate(420.99 381.60) scale(1 1.050)" font-size="9.00" font-weight="bold" text-anchor="middle">800</text>
<text transform="translate(448.14 381.60) scale(1 1.050)" font-size="9.00" font-weight="bold" text-anchor="middle">900</text>
<text transform="translate(475.30 381.60) scale(1 1.050)" font-size="9.00" font-weight="bold" text-anchor="middle">1000</text>
<text transform="translate(278.30 364.50) scale(1 1.050)" font-size="9.00" font-weight="bold" text-anchor="end" dominant-baseline="central">0.0</text>
<text transform="translate(278.30 335.26) scale(1 1.050)" font-size="9.00" font-weight="bold" text-anchor="end" dominant-baseline="central">0.2</text>
<text transform="translate(278.30 306.02) scale(1 1.050)" font-size="9.00" font-weight="bold" text-anchor="end" dominant-baseline="central">0.4</text>
<text transform="translate(278.30 276.78) scale(1 1.050)" font-size="9.00" font-weight="bold" text-anchor="end" dominant-baseline="central">0.6</text>
<text transform="translate(278.30 247.54) scale(1 1.050)" font-size="9.00" font-weight="bold" text-anchor="end" dominant-baseline="central">0.8</text>
<text transform="translate(278.30 218.30) scale(1 1.050)" font-size="9.00" font-weight="bold" text-anchor="end" dominant-baseline="central">1.0</text>
<text transform="translate(263.30 289.90) rotate(-90)" font-size="16.90" font-weight="bold" text-anchor="middle">Reflectance</text>
<text x="378.60" y="396.50" font-size="15.90" font-weight="bold" text-anchor="middle">Wavelength (nm)</text>
<text x="367.40" y="414.50" font-size="13.80" text-anchor="middle">(<tspan font-weight="bold">e</tspan>)</text>
<path d="M285.30 240.70 C286.50 240.13 289.47 236.83 292.50 237.30 C295.53 237.77 299.63 241.33 303.50 243.50 C307.37 245.67 311.83 250.77 315.70 250.30 C319.57 249.83 323.97 243.08 326.70 240.70 C329.43 238.32 329.15 237.25 332.10 236.00 C335.05 234.75 338.93 234.12 344.40 233.20 C349.87 232.28 358.47 231.70 364.90 230.50 C371.33 229.30 378.10 227.33 383.00 226.00 C387.90 224.67 390.02 223.72 394.30 222.50 C398.58 221.28 401.53 219.42 408.70 218.70 C415.87 217.98 424.88 218.37 437.30 218.20 C449.72 218.03 475.55 217.78 483.20 217.70" fill="none" stroke="#ff8a1a" stroke-width="2.30" stroke-linejoin="round" stroke-linecap="butt" stroke-dasharray="3.6 2.4"/>
<path d="M285.30 236.60 C286.50 236.15 289.47 233.10 292.50 233.90 C295.53 234.70 299.63 239.02 303.50 241.40 C307.37 243.78 311.83 249.00 315.70 248.20 C319.57 247.40 323.97 239.43 326.70 236.60 C329.43 233.77 329.15 232.55 332.10 231.20 C335.05 229.85 338.93 229.52 344.40 228.50 C349.87 227.48 358.47 226.07 364.90 225.10 C371.33 224.13 378.10 223.40 383.00 222.70 C387.90 222.00 390.02 221.68 394.30 220.90 C398.58 220.12 401.53 218.60 408.70 218.00 C415.87 217.40 424.88 217.65 437.30 217.30 C449.72 216.95 475.55 216.13 483.20 215.90" fill="none" stroke="#1e8c1e" stroke-width="2.30" stroke-linejoin="round" stroke-linecap="butt" stroke-dasharray="3.6 2.4"/>
<path d="M285.30 234.60 C286.50 234.27 289.93 232.15 292.50 232.60 C295.07 233.05 296.83 235.67 300.70 237.30 C304.57 238.93 311.83 242.73 315.70 242.40 C319.57 242.07 321.17 237.40 323.90 235.30 C326.63 233.20 328.68 230.83 332.10 229.80 C335.52 228.77 338.93 229.32 344.40 229.10 C349.87 228.88 358.47 229.10 364.90 228.50 C371.33 227.90 378.10 226.53 383.00 225.50 C387.90 224.47 390.02 223.35 394.30 222.30 C398.58 221.25 401.53 219.80 408.70 219.20 C415.87 218.60 424.88 218.90 437.30 218.70 C449.72 218.50 475.55 218.12 483.20 218.00" fill="none" stroke="#a0176e" stroke-width="2.30" stroke-linejoin="round" stroke-linecap="butt" stroke-dasharray="3.6 2.4"/>
<path d="M285.30 352.50 C285.67 353.75 285.88 358.33 287.50 360.00 C289.12 361.67 292.08 362.08 295.00 362.50 C297.92 362.92 302.50 362.92 305.00 362.50 C307.50 362.08 308.78 360.67 310.00 360.00 C311.22 359.33 311.55 358.33 312.30 358.50 C313.05 358.67 313.63 360.12 314.50 361.00 C315.37 361.88 316.25 363.63 317.50 363.80 C318.75 363.97 320.25 362.75 322.00 362.00 C323.75 361.25 325.83 359.38 328.00 359.30 C330.17 359.22 329.98 360.83 335.00 361.50 C340.02 362.17 350.60 363.08 358.10 363.30 C365.60 363.52 374.68 362.87 380.00 362.80 C385.32 362.73 386.95 363.53 390.00 362.90 C393.05 362.27 395.80 361.17 398.30 359.00 C400.80 356.83 403.20 354.18 405.00 349.90 C406.80 345.62 408.08 339.95 409.10 333.30 C410.12 326.65 410.48 319.13 411.10 310.00 C411.72 300.87 412.08 288.50 412.80 278.50 C413.52 268.50 414.53 258.08 415.40 250.00 C416.27 241.92 417.10 234.25 418.00 230.00 C418.90 225.75 419.88 224.17 420.80 224.50 C421.72 224.83 422.70 227.75 423.50 232.00 C424.30 236.25 424.77 244.62 425.60 250.00 C426.43 255.38 427.30 258.83 428.50 264.30 C429.70 269.77 431.13 277.58 432.80 282.80 C434.47 288.02 436.77 292.73 438.50 295.60 C440.23 298.47 441.28 298.93 443.20 300.00 C445.12 301.07 446.40 301.58 450.00 302.00 C453.60 302.42 459.22 302.50 464.80 302.50 C470.38 302.50 480.38 302.08 483.50 302.00" fill="none" stroke="#ff8a1a" stroke-width="2.00" stroke-linejoin="round" stroke-linecap="butt"/>
<path d="M285.30 358.50 C287.42 359.05 293.50 361.17 298.00 361.80 C302.50 362.43 307.30 362.47 312.30 362.30 C317.30 362.13 320.37 360.93 328.00 360.80 C335.63 360.67 349.33 361.75 358.10 361.50 C366.87 361.25 375.28 360.13 380.60 359.30 C385.92 358.47 387.05 358.62 390.00 356.50 C392.95 354.38 396.22 351.85 398.30 346.60 C400.38 341.35 401.50 331.10 402.50 325.00 C403.50 318.90 403.65 315.37 404.30 310.00 C404.95 304.63 405.58 296.75 406.40 292.80 C407.22 288.85 408.35 286.77 409.20 286.30 C410.05 285.83 410.78 288.05 411.50 290.00 C412.22 291.95 412.58 295.33 413.50 298.00 C414.42 300.67 415.92 303.92 417.00 306.00 C418.08 308.08 418.40 308.87 420.00 310.50 C421.60 312.13 423.83 314.45 426.60 315.80 C429.37 317.15 431.62 318.47 436.60 318.60 C441.58 318.73 448.68 317.62 456.50 316.60 C464.32 315.58 479.00 313.18 483.50 312.50" fill="none" stroke="#a0176e" stroke-width="2.00" stroke-linejoin="round" stroke-linecap="butt"/>
<path d="M285.30 340.50 C285.55 342.50 286.18 349.25 286.80 352.50 C287.42 355.75 287.63 358.25 289.00 360.00 C290.37 361.75 292.25 362.50 295.00 363.00 C297.75 363.50 302.62 363.25 305.50 363.00 C308.38 362.75 310.30 361.37 312.30 361.50 C314.30 361.63 314.88 363.92 317.50 363.80 C320.12 363.68 323.73 360.88 328.00 360.80 C332.27 360.72 338.08 363.05 343.10 363.30 C348.12 363.55 351.85 362.85 358.10 362.30 C364.35 361.75 374.78 360.88 380.60 360.00 C386.42 359.12 389.77 358.68 393.00 357.00 C396.23 355.32 397.73 353.85 400.00 349.90 C402.27 345.95 404.82 339.95 406.60 333.30 C408.38 326.65 409.87 314.72 410.70 310.00 C411.53 305.28 411.13 308.82 411.60 305.00 C412.07 301.18 412.58 291.03 413.50 287.10 C414.42 283.17 416.03 282.12 417.10 281.40 C418.17 280.68 418.95 281.85 419.90 282.80 C420.85 283.75 422.20 284.23 422.80 287.10 C423.40 289.97 423.25 296.18 423.50 300.00 C423.75 303.82 423.93 307.23 424.30 310.00 C424.67 312.77 424.77 312.45 425.70 316.60 C426.63 320.75 428.08 330.18 429.90 334.90 C431.72 339.62 433.55 342.68 436.60 344.90 C439.65 347.12 443.50 347.92 448.20 348.20 C452.90 348.48 458.92 347.28 464.80 346.60 C470.68 345.92 480.38 344.52 483.50 344.10" fill="none" stroke="#1e8c1e" stroke-width="2.00" stroke-linejoin="round" stroke-linecap="butt"/>
<path d="M293.9 308.00H314.6" stroke="#ff8a1a" stroke-width="2"/>
<text x="316.4" y="308.30" font-size="7.8" font-weight="bold" dominant-baseline="central">Ag/PMMA-S1</text>
<path d="M293.9 318.80H314.6" stroke="#a0176e" stroke-width="2"/>
<text x="316.4" y="319.10" font-size="7.8" font-weight="bold" dominant-baseline="central">Ag/PMMA-S2</text>
<path d="M293.9 329.50H314.6" stroke="#1e8c1e" stroke-width="2"/>
<text x="316.4" y="329.80" font-size="7.8" font-weight="bold" dominant-baseline="central">Ag/PMMA-S3</text>
<rect x="532.40" y="210.20" width="193.10" height="161.30" fill="none" stroke="#000" stroke-width="1.90"/>
<path d="M539.30 371.50V375.30M561.97 371.50V375.30M584.65 371.50V375.30M607.33 371.50V375.30M630.00 371.50V375.30M652.67 371.50V375.30M675.35 371.50V375.30M698.03 371.50V375.30M720.70 371.50V375.30M550.64 371.50V373.90M573.31 371.50V373.90M595.99 371.50V373.90M618.66 371.50V373.90M641.34 371.50V373.90M664.01 371.50V373.90M686.69 371.50V373.90M709.36 371.50V373.90M532.40 371.50H528.60M532.40 349.07H528.60M532.40 326.64H528.60M532.40 304.21H528.60M532.40 281.79H528.60M532.40 259.36H528.60M532.40 236.93H528.60M532.40 214.50H528.60M532.40 360.29H530.00M532.40 337.86H530.00M532.40 315.43H530.00M532.40 293.00H530.00M532.40 270.57H530.00M532.40 248.14H530.00M532.40 225.71H530.00" stroke="#000" stroke-width="1.80" fill="none"/>
<text transform="translate(539.30 386.40) scale(1 1.050)" font-size="9.00" font-weight="bold" text-anchor="middle">0.1</text>
<text transform="translate(561.97 386.40) scale(1 1.050)" font-size="9.00" font-weight="bold" text-anchor="middle">0.2</text>
<text transform="translate(584.65 386.40) scale(1 1.050)" font-size="9.00" font-weight="bold" text-anchor="middle">0.3</text>
<text transform="translate(607.33 386.40) scale(1 1.050)" font-size="9.00" font-weight="bold" text-anchor="middle">0.4</text>
<text transform="translate(630.00 386.40) scale(1 1.050)" font-size="9.00" font-weight="bold" text-anchor="middle">0.5</text>
<text transform="translate(652.67 386.40) scale(1 1.050)" font-size="9.00" font-weight="bold" text-anchor="middle">0.6</text>
<text transform="translate(675.35 386.40) scale(1 1.050)" font-size="9.00" font-weight="bold" text-anchor="middle">0.7</text>
<text transform="translate(698.03 386.40) scale(1 1.050)" font-size="9.00" font-weight="bold" text-anchor="middle">0.8</text>
<text transform="translate(720.70 386.40) scale(1 1.050)" font-size="9.00" font-weight="bold" text-anchor="middle">0.9</text>
<text transform="translate(525.60 370.70) scale(1 1.050)" font-size="9.00" font-weight="bold" text-anchor="end" dominant-baseline="central">0.30</text>
<text transform="translate(525.60 348.27) scale(1 1.050)" font-size="9.00" font-weight="bold" text-anchor="end" dominant-baseline="central">0.35</text>
<text transform="translate(525.60 325.84) scale(1 1.050)" font-size="9.00" font-weight="bold" text-anchor="end" dominant-baseline="central">0.40</text>
<text transform="translate(525.60 303.41) scale(1 1.050)" font-size="9.00" font-weight="bold" text-anchor="end" dominant-baseline="central">0.45</text>
<text transform="translate(525.60 280.99) scale(1 1.050)" font-size="9.00" font-weight="bold" text-anchor="end" dominant-baseline="central">0.50</text>
<text transform="translate(525.60 258.56) scale(1 1.050)" font-size="9.00" font-weight="bold" text-anchor="end" dominant-baseline="central">0.55</text>
<text transform="translate(525.60 236.13) scale(1 1.050)" font-size="9.00" font-weight="bold" text-anchor="end" dominant-baseline="central">0.60</text>
<text transform="translate(525.60 213.70) scale(1 1.050)" font-size="9.00" font-weight="bold" text-anchor="end" dominant-baseline="central">0.65</text>
<text transform="translate(505.3 291) rotate(-90)" font-size="15.4" font-weight="bold" text-anchor="middle">λ<tspan font-size="8" dy="-5.5">2</tspan><tspan dy="5.5"> (nm)</tspan></text>
<text x="632.5" y="399.7" font-size="15" font-weight="bold" text-anchor="middle">Sin<tspan font-size="6.5" dy="-3.8">2</tspan><tspan dy="3.8">θ</tspan></text>
<text x="609.50" y="415.50" font-size="13.80" text-anchor="middle">(<tspan font-weight="bold">f</tspan>)</text>
<defs><radialGradient id="ballo" cx="0.5" cy="0.5" r="0.55" fx="0.38" fy="0.32"><stop offset="0" stop-color="#fff"/><stop offset="0.28" stop-color="#ff9a30"/><stop offset="1" stop-color="#e86a00"/></radialGradient><radialGradient id="ballp" cx="0.5" cy="0.5" r="0.55" fx="0.38" fy="0.32"><stop offset="0" stop-color="#fff"/><stop offset="0.28" stop-color="#8a30c0"/><stop offset="1" stop-color="#5a0890"/></radialGradient><radialGradient id="ballg" cx="0.5" cy="0.5" r="0.55" fx="0.38" fy="0.32"><stop offset="0" stop-color="#fff"/><stop offset="0.28" stop-color="#30a030"/><stop offset="1" stop-color="#0a700a"/></radialGradient><radialGradient id="ballm" cx="0.5" cy="0.5" r="0.55" fx="0.38" fy="0.32"><stop offset="0" stop-color="#fff"/><stop offset="0.28" stop-color="#c0307e"/><stop offset="1" stop-color="#8a0a58"/></radialGradient></defs>
<circle cx="542.80" cy="218.80" r="2.8" fill="url(#ballo)"/>
<circle cx="573.10" cy="241.10" r="2.8" fill="url(#ballo)"/>
<circle cx="610.30" cy="266.30" r="2.8" fill="url(#ballo)"/>
<circle cx="649.50" cy="295.40" r="2.8" fill="url(#ballo)"/>
<circle cx="686.80" cy="322.50" r="2.8" fill="url(#ballo)"/>
<circle cx="717.20" cy="344.80" r="2.8" fill="url(#ballo)"/>
<circle cx="542.80" cy="217.40" r="2.8" fill="url(#ballp)"/>
<circle cx="573.10" cy="239.20" r="2.8" fill="url(#ballp)"/>
<circle cx="610.30" cy="263.90" r="2.8" fill="url(#ballp)"/>
<circle cx="649.50" cy="298.90" r="2.8" fill="url(#ballp)"/>
<circle cx="686.80" cy="324.40" r="2.8" fill="url(#ballp)"/>
<circle cx="717.20" cy="349.30" r="2.8" fill="url(#ballp)"/>
<circle cx="542.80" cy="231.20" r="2.8" fill="url(#ballg)"/>
<circle cx="573.10" cy="247.20" r="2.8" fill="url(#ballg)"/>
<circle cx="610.30" cy="271.60" r="2.8" fill="url(#ballg)"/>
<circle cx="649.50" cy="292.40" r="2.8" fill="url(#ballg)"/>
<circle cx="686.80" cy="321.10" r="2.8" fill="url(#ballg)"/>
<circle cx="717.20" cy="346.00" r="2.8" fill="url(#ballg)"/>
<circle cx="542.80" cy="248.70" r="2.8" fill="url(#ballm)"/>
<circle cx="573.10" cy="265.80" r="2.8" fill="url(#ballm)"/>
<circle cx="610.30" cy="284.10" r="2.8" fill="url(#ballm)"/>
<circle cx="649.50" cy="321.10" r="2.8" fill="url(#ballm)"/>
<circle cx="686.80" cy="349.30" r="2.8" fill="url(#ballm)"/>
<circle cx="717.20" cy="361.00" r="2.8" fill="url(#ballm)"/>
<path d="M542.80 245.72L717.20 364.35" stroke="#a0176e" stroke-width="2"/>
<path d="M542.80 228.14L717.20 341.76" stroke="#1e8c1e" stroke-width="2"/>
<path d="M542.80 216.04L717.20 348.40" stroke="#6f13a3" stroke-width="2"/>
<path d="M542.80 218.90L717.20 344.03" stroke="#ff8a1a" stroke-width="2"/>
<circle cx="544.1" cy="325.10" r="2.9" fill="url(#ballo)"/>
<text x="555.8" y="325.40" font-size="7.6" font-weight="bold" dominant-baseline="central">PMMA</text>
<circle cx="544.1" cy="336.70" r="2.9" fill="url(#ballp)"/>
<text x="555.8" y="337.00" font-size="7.6" font-weight="bold" dominant-baseline="central">Ag/PMMA-S1</text>
<circle cx="544.1" cy="348.00" r="2.9" fill="url(#ballg)"/>
<text x="555.8" y="348.30" font-size="7.6" font-weight="bold" dominant-baseline="central">Ag/PMMA-S2</text>
<circle cx="544.1" cy="359.10" r="2.9" fill="url(#ballm)"/>
<text x="555.8" y="359.40" font-size="7.6" font-weight="bold" dominant-baseline="central">Ag/PMMA-S3</text>
</svg></body></html>
